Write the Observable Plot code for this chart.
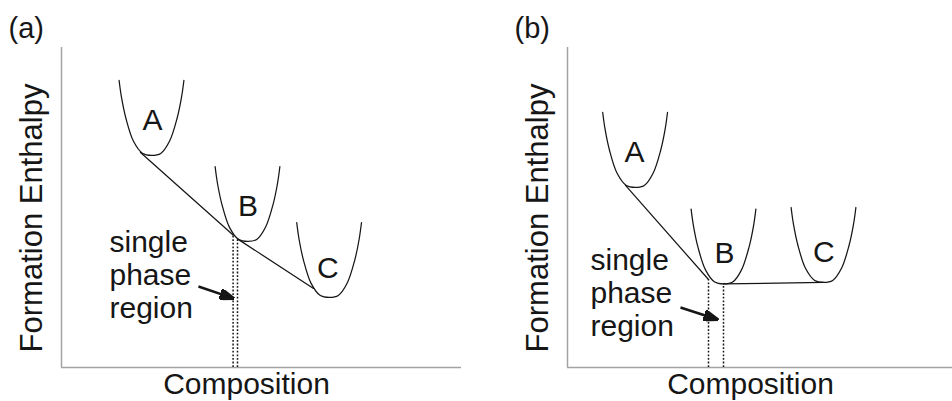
<!DOCTYPE html>
<html>
<head>
<meta charset="utf-8">
<script src="https://cdn.jsdelivr.net/npm/d3@7"></script>
<script src="https://cdn.jsdelivr.net/npm/@observablehq/plot@0.6"></script>
<style>
  body { margin: 0; background: #fff; }
  #figure { display: flex; width: 952px; height: 401px; overflow: hidden; }
</style>
</head>
<body>
<div id="figure"></div>
<script>
// ---- Panel (a): B lies on the convex hull, narrow single-phase window ----
// [phase, composition, formation enthalpy] samples of each phase's curve
const curvesA = [
  ["A", 14.4, 89.7], ["A", 15.0, 84.4], ["A", 16.1, 77.9], ["A", 18.0, 70.7], ["A", 20.3, 66.9], ["A", 22.5, 66.3],
  ["A", 24.8, 66.9], ["A", 27.0, 70.7], ["A", 28.9, 77.9], ["A", 30.0, 84.4], ["A", 30.6, 89.7],
  ["B", 38.4, 62.8], ["B", 39.0, 57.5], ["B", 40.1, 51.0], ["B", 42.0, 43.8], ["B", 44.3, 40.0], ["B", 46.5, 39.4],
  ["B", 48.8, 40.0], ["B", 51.0, 43.8], ["B", 52.9, 51.0], ["B", 54.0, 57.5], ["B", 54.6, 62.8],
  ["C", 58.8, 45.3], ["C", 59.4, 40.0], ["C", 60.5, 33.5], ["C", 62.4, 26.3], ["C", 64.7, 22.5], ["C", 66.9, 21.9],
  ["C", 69.2, 22.5], ["C", 71.4, 26.3], ["C", 73.3, 33.5], ["C", 74.4, 40.0], ["C", 75.0, 45.3]
];
// common-tangent segments [pair, composition, enthalpy]
const hullA = [["A-B", 19.75, 67.2], ["A-B", 42.9, 41.4], ["B-C", 44.0, 40.2], ["B-C", 63.0, 24.7]];
// phase boundaries of the single-phase region [composition, enthalpy at tangent]
const boundsA = [[42.9, 41.4], [44.0, 40.2]];
// pointer [from composition, from enthalpy, to composition, to enthalpy]
const pointerA = [[34.25, 25.3, 43.0, 21.6]];
// phase names at [name, composition, enthalpy]
const namesA = [["A", 22.75, 74.1], ["B", 46.6, 47.5], ["C", 66.6, 28.0]];
const noteA = [["single\nphase\nregion", 12.0, 15.6]];

// ---- Panel (b): C sits level with B, wider single-phase window ----
const curvesB = [
  ["A", 8.8, 79.7], ["A", 9.4, 74.4], ["A", 10.5, 67.9], ["A", 12.4, 60.7], ["A", 14.7, 56.9], ["A", 16.9, 56.3],
  ["A", 19.2, 56.9], ["A", 21.4, 60.7], ["A", 23.3, 67.9], ["A", 24.4, 74.4], ["A", 25.0, 79.7],
  ["B", 30.9, 49.5], ["B", 31.5, 44.2], ["B", 32.6, 37.7], ["B", 34.5, 30.5], ["B", 36.8, 26.7], ["B", 39.0, 26.1],
  ["B", 41.3, 26.7], ["B", 43.5, 30.5], ["B", 45.4, 37.7], ["B", 46.5, 44.2], ["B", 47.1, 49.5],
  ["C", 55.9, 50.0], ["C", 56.5, 44.7], ["C", 57.6, 38.2], ["C", 59.5, 31.0], ["C", 61.8, 27.2], ["C", 64.0, 26.6],
  ["C", 66.3, 27.2], ["C", 68.5, 31.0], ["C", 70.4, 38.2], ["C", 71.5, 44.7], ["C", 72.1, 50.0]
];
const hullB = [["A-B", 14.5, 56.9], ["A-B", 35.25, 27.5], ["B-C", 39.0, 26.1], ["B-C", 64.0, 26.6]];
const boundsB = [[35.25, 27.5], [39.0, 26.1]];
const pointerB = [[28.25, 18.75, 37.5, 15.0]];
const namesB = [["A", 16.75, 64.1], ["B", 39.25, 32.8], ["C", 64.1, 33.0]];
const noteB = [["single\nphase\nregion", 5.75, 9.8]];

const tag = ["(a)", "(b)"];
const xTitle = "Composition";
const yTitle = "Formation Enthalpy";

const font = "'Liberation Sans', Arial, Helvetica, sans-serif";
const ink = "#161616";
const axisGray = "#a3a3a3";

const rows = (t) => t.map(([k, x, y]) => ({k, x, y}));

// solid triangular arrowhead whose tip sits on the end of the link
const solidHead = (color) =>
  d3.create("svg:marker")
    .attr("viewBox", "0 -5.5 15 11")
    .attr("refX", 14)
    .attr("refY", 0)
    .attr("markerUnits", "userSpaceOnUse")
    .attr("markerWidth", 15)
    .attr("markerHeight", 11)
    .attr("orient", "auto")
    .call((m) => m.append("path").attr("d", "M0,-5.3L15,0L0,5.3Z").attr("fill", color))
    .node();

function panel({curves, hull, bounds, pointer, names, note, label, marginLeft, marginRight, xMax, xTitleDx}) {
  return Plot.plot({
    width: 476,
    height: 401,
    marginLeft,
    marginRight,
    marginTop: 47,
    marginBottom: 34,
    x: {domain: [0, xMax], axis: null},
    y: {domain: [0, 100], axis: null},
    style: {fontFamily: font, background: "white", color: ink},
    marks: [
      // axes
      Plot.ruleX([0], {stroke: axisGray, strokeWidth: 1.5}),
      Plot.ruleY([0], {stroke: axisGray, strokeWidth: 1.5}),
      // phase boundaries
      Plot.ruleX(bounds, {x: d => d[0], y1: 0, y2: d => d[1], stroke: ink, strokeWidth: 1.5, strokeDasharray: "1.8,1.8"}),
      // enthalpy curves of the phases
      Plot.line(rows(curves), {x: "x", y: "y", z: "k", curve: "catmull-rom", stroke: ink, strokeWidth: 1.25}),
      // common tangents
      Plot.line(rows(hull), {x: "x", y: "y", z: "k", stroke: ink, strokeWidth: 1.25}),
      // pointer to the single-phase region
      Plot.link(pointer, {x1: d => d[0], y1: d => d[1], x2: d => d[2], y2: d => d[3],
        stroke: ink, strokeWidth: 2.5, markerEnd: solidHead}),
      // phase names
      Plot.text(rows(names), {x: "x", y: "y", text: "k", fontSize: 30, fill: ink, lineAnchor: "bottom"}),
      Plot.text(rows(note), {x: "x", y: "y", text: "k", fontSize: 30, fill: ink, textAnchor: "start",
        lineAnchor: "bottom", lineHeight: 1.1}),
      // titles
      Plot.text([label], {frameAnchor: "top-left", dx: -53, dy: -10, fontSize: 29, fill: ink,
        textAnchor: "start", lineAnchor: "bottom"}),
      Plot.text([xTitle], {frameAnchor: "bottom", dx: xTitleDx, dy: 26, fontSize: 30, fill: ink,
        textAnchor: "middle", lineAnchor: "bottom"}),
      Plot.text([yTitle], {frameAnchor: "left", dx: -19.3, dy: 10.5, rotate: -90, fontSize: 31, fill: ink,
        textAnchor: "middle", lineAnchor: "bottom"})
    ]
  });
}

const fig = document.getElementById("figure");
fig.append(panel({curves: curvesA, hull: hullA, bounds: boundsA, pointer: pointerA, names: namesA, note: noteA,
  label: tag[0], marginLeft: 61, marginRight: 15, xMax: 100, xTitleDx: -15}));
fig.append(panel({curves: curvesB, hull: hullB, bounds: boundsB, pointer: pointerB, names: namesB, note: noteB,
  label: tag[1], marginLeft: 91, marginRight: 0, xMax: 96.25, xTitleDx: -9.5}));
</script>
</body>
</html>
